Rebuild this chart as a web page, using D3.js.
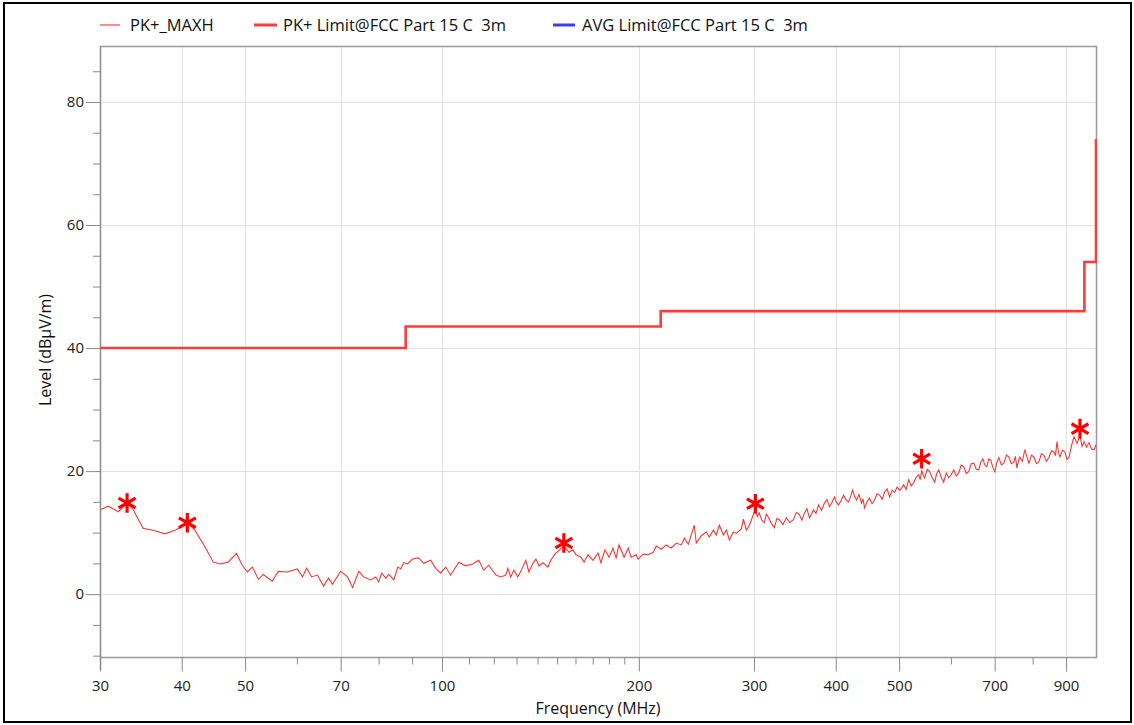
<!DOCTYPE html>
<html>
<head>
<meta charset="utf-8">
<script src="https://cdn.jsdelivr.net/npm/d3@7"></script>
<style>
  html, body { margin: 0; padding: 0; background: #fff; }
  svg { display: block; font-family: "Open Sans", "Noto Sans", sans-serif; }
</style>
</head>
<body>
<svg id="chart" width="1134" height="725"></svg>
<script>
// ---- data ----
const seriesNames = ["PK+_MAXH", "PK+ Limit@FCC Part 15 C  3m", "AVG Limit@FCC Part 15 C  3m"];

const traceFreq = [30.0,30.9,32.0,33.0,33.7,34.9,36.4,37.7,39.1,40.8,41.9,43.4,44.7,45.8,47.1,48.5,49.5,50.4,51.3,52.4,53.3,55.0,56.2,58.0,60.1,61.2,62.1,63.2,64.5,65.9,67.1,68.0,70.0,71.7,73.0,74.6,75.9,77.8,79.2,80.0,80.9,82.0,82.9,84.4,85.6,86.5,87.4,88.6,90.2,92.1,93.8,96.1,97.8,99.5,101.3,103.1,106.1,108.7,111.4,113.8,115.8,117.9,120.9,123.0,125.2,126.1,127.4,128.8,130.6,132.0,134.3,135.8,137.7,139.2,140.7,142.7,145.2,146.7,148.8,153.6,156.4,158.6,160.3,163.1,164.9,167.2,170.2,173.2,175.0,177.5,180.1,182.6,184.6,186.5,189.9,192.6,194.6,198.1,199.5,203.1,206.7,210.4,212.6,216.4,220.2,224.2,228.2,232.2,234.7,238.0,240.5,243.1,244.8,249.2,253.6,256.3,260.0,262.7,265.5,269.3,272.2,275.1,279.0,281.9,286.9,289.0,292.0,295.2,
301.4,303.5,305.6,308.3,311.1,313.3,315.5,318.9,322.3,325.1,328.0,332.1,336.2,340.4,344.6,348.3,352.0,355.1,358.3,361.4,364.6,367.2,369.8,373.1,376.4,380.4,384.4,387.8,391.3,394.7,398.2,401.0,403.9,407.5,411.1,414.7,418.4,421.4,424.4,427.4,430.4,434.2,438.1,440.4,442.7,446.6,450.6,454.6,458.6,462.7,466.8,470.9,475.1,479.3,483.6,487.8,492.1,496.5,500.9,504.4,508.0,512.5,517.1,521.7,526.3,530.9,535.6,538.5,541.3,544.2,547.1,552.0,556.9,561.8,566.7,570.8,574.9,579.9,584.9,590.1,595.4,600.7,606.0,611.4,616.8,622.3,627.8,633.3,638.9,644.6,650.3,656.0,661.8,666.5,671.3,676.1,680.9,685.7,690.5,695.4,700.4,705.3,710.3,716.6,723.0,729.4,735.8,742.3,748.9,752.9,756.9,760.9,764.9,771.6,778.4,784.0,789.6,796.6,803.6,810.7,817.9,825.1,832.4,839.8,847.3,854.8,862.4,867.0,871.6,876.2,880.9,888.7,896.5,902.8,909.2,917.3,925.4,935.3,945.2,952.0,958.7,967.2,975.8,984.5,993.3,1000];
const traceLevel = [13.7,14.3,13.4,14.8,13.8,10.7,10.3,9.8,10.4,11.6,10.4,7.7,5.2,4.9,5.2,6.6,4.7,3.6,4.4,2.4,3.2,2.1,3.7,3.6,4.1,2.8,4.2,2.8,3.1,1.3,2.6,1.6,3.7,2.8,1.1,3.7,2.8,2.3,2.8,2.0,3.4,2.6,3.2,2.3,4.4,4.1,5.1,4.9,5.7,5.9,5.0,5.5,4.2,3.4,4.4,3.1,5.2,4.6,4.9,5.5,3.9,4.7,3.1,2.8,3.1,4.2,2.8,3.9,2.8,3.7,5.5,3.6,5.0,5.7,4.6,5.1,4.4,5.5,6.5,7.8,6.8,7.2,6.4,6.0,5.2,6.4,5.5,6.7,5.1,7.2,6.0,7.5,5.9,8.0,6.0,7.5,6.0,6.4,5.7,6.5,6.4,6.8,7.8,7.3,8.0,7.5,8.3,8.0,9.1,8.1,9.6,11.2,8.3,9.5,10.1,9.3,10.4,9.6,11.2,9.6,10.4,8.8,10.1,9.9,10.6,12.2,10.4,11.2,
13.8,12.6,13.2,12.0,11.6,13.0,12.5,11.5,10.8,12.3,12.1,11.3,12.4,11.6,12.1,13.3,12.9,12.0,13.2,13.9,12.4,13.0,13.7,13.1,14.5,13.6,14.8,15.4,14.2,14.9,15.8,14.9,14.5,15.2,16.1,15.3,15.0,15.8,16.9,15.9,15.3,16.2,14.8,15.5,14.0,15.0,15.6,14.7,15.3,16.3,16.1,15.4,16.6,17.1,15.8,16.9,16.5,17.4,16.9,17.2,17.8,17.0,18.6,17.6,18.1,19.0,19.4,18.6,20.0,19.4,18.9,20.3,19.9,18.9,18.2,19.6,20.2,19.0,18.2,19.7,18.9,19.4,20.2,19.2,19.7,21.0,20.7,19.6,19.9,21.2,21.3,20.3,20.2,21.4,22.0,21.0,20.7,22.0,21.8,20.6,19.9,21.4,22.2,21.0,21.3,22.6,22.3,21.2,21.5,22.4,20.5,21.6,22.3,21.6,23.5,22.4,21.3,22.6,22.3,21.2,21.5,22.8,22.6,21.6,22.2,23.3,23.1,22.5,24.8,23.0,22.3,23.4,23.1,21.9,22.2,24.1,25.6,24.5,25.8,24.0,24.8,23.9,24.6,23.6,23.5,24.3];

const peakFreq = [33.0, 40.8, 153.6, 301.4, 541.3, 945.2];
const peakLevel = [14.8, 11.6, 8.3, 14.7, 22.0, 26.9];

const limitFreq = [30, 88, 88, 216, 216, 960, 960, 1000, 1000];
const limitLevel = [40, 40, 43.5, 43.5, 46, 46, 54, 54, 74];

const xMajorTicks = [30, 40, 50, 70, 100, 200, 300, 400, 500, 700, 900];
const xMinorTicks = [60, 80, 90, 110, 120, 130, 140, 150, 160, 170, 180, 190, 600, 800];
const yMajorTicks = [0, 20, 40, 60, 80];
const yMinorTicks = [-10, -5, 5, 10, 15, 25, 30, 35, 45, 50, 55, 65, 70, 75, 85];

// ---- layout ----
const svg = d3.select("#chart");
const L = 100, R = 1096, T = 46, B = 657.5;
const x = d3.scaleLog().domain([30, 1000]).range([L, R]);
const y = d3.scaleLinear().domain([-10.3, 89.1]).range([B, T]);

// outer border
svg.append("rect").attr("x", 4).attr("y", 3).attr("width", 1127).attr("height", 719)
  .attr("fill", "none").attr("stroke", "#000").attr("stroke-width", 2);

// grid
const grid = svg.append("g").attr("stroke", "#e2e2e2").attr("stroke-width", 1);
grid.selectAll("line.v").data(xMajorTicks.slice(1)).join("line")
  .attr("x1", d => Math.round(x(d)) + 0.5).attr("x2", d => Math.round(x(d)) + 0.5)
  .attr("y1", T).attr("y2", B);
grid.selectAll("line.h").data(yMajorTicks).join("line")
  .attr("y1", d => Math.round(y(d)) + 0.5).attr("y2", d => Math.round(y(d)) + 0.5)
  .attr("x1", L).attr("x2", R);

// frame (top, right, bottom)
svg.append("path")
  .attr("d", `M${L},${T + 0.5}H${R + 0.5}V${B}H${L}`)
  .attr("fill", "none").attr("stroke", "#999").attr("stroke-width", 1.5);

// y axis
const yAxisG = svg.append("g").attr("transform", `translate(${L},0)`);
yAxisG.call(d3.axisLeft(y).tickValues(yMajorTicks).tickSize(14).tickPadding(2).tickFormat(d3.format("d")));
const yMinorG = svg.append("g").attr("transform", `translate(${L},0)`);
yMinorG.call(d3.axisLeft(y).tickValues(yMinorTicks).tickSize(7).tickFormat(""));
yMinorG.select(".domain").remove();
yAxisG.select(".domain").attr("d", `M0.5,${T}V670`);

// x axis
const xAxisG = svg.append("g").attr("transform", `translate(0,${B})`);
xAxisG.call(d3.axisBottom(x).tickValues(xMajorTicks).tickSize(14).tickPadding(9).tickFormat(d3.format("d")));
const xMinorG = svg.append("g").attr("transform", `translate(0,${B})`);
xMinorG.call(d3.axisBottom(x).tickValues(xMinorTicks).tickSize(7).tickFormat(""));
xMinorG.select(".domain").remove();
xAxisG.select(".domain").remove();

svg.selectAll(".tick line").attr("stroke", "#8a8a8a");
yAxisG.select(".domain").attr("stroke", "#8a8a8a").attr("stroke-width", 1.5);
svg.selectAll(".tick text").attr("fill", "#222").style("font-size", "15px")
  .style("font-family", "'Open Sans', 'Noto Sans', sans-serif");

// axis titles
svg.append("text").attr("x", (L + R) / 2).attr("y", 714).attr("text-anchor", "middle")
  .attr("fill", "#111").style("font-size", "16px").text("Frequency (MHz)");
svg.append("text").attr("transform", "translate(51,350) rotate(-90)").attr("text-anchor", "middle")
  .attr("fill", "#111").style("font-size", "16px").text("Level (dBµV/m)");

// clip
svg.append("clipPath").attr("id", "clip").append("rect")
  .attr("x", L).attr("y", T).attr("width", R - L + 1).attr("height", B - T);

const plot = svg.append("g").attr("clip-path", "url(#clip)");

// limit line
const limitData = limitFreq.map((f, i) => [f, limitLevel[i]]);
plot.append("path").datum(limitData)
  .attr("d", d3.line().x(d => x(d[0])).y(d => y(d[1])))
  .attr("fill", "none").attr("stroke", "#ff3b3b").attr("stroke-width", 2.6);

// trace
const traceData = traceFreq.map((f, i) => [f, traceLevel[i]]);
plot.append("path").datum(traceData)
  .attr("d", d3.line().x(d => x(d[0])).y(d => y(d[1])))
  .attr("fill", "none").attr("stroke", "#ff3535").attr("stroke-width", 1.1);

// peaks
const peakData = peakFreq.map((f, i) => [f, peakLevel[i]]);
plot.selectAll("path.peak").data(peakData).join("path").attr("class", "peak")
  .attr("transform", d => `translate(${x(d[0])},${y(d[1])})`)
  .attr("d", d3.symbol().type(d3.symbolAsterisk).size(270)())
  .attr("fill", "none").attr("stroke", "#ff0000").attr("stroke-width", 3.2);

// legend
const legendItems = [
  { name: seriesNames[0], x1: 100, x2: 120, tx: 130, color: "#ff4040", w: 1.2 },
  { name: seriesNames[1], x1: 254, x2: 277, tx: 283, color: "#ff3b3b", w: 3 },
  { name: seriesNames[2], x1: 553, x2: 575, tx: 582, color: "#3b3bff", w: 3 }
];
const lg = svg.append("g");
legendItems.forEach(it => {
  lg.append("line").attr("x1", it.x1).attr("x2", it.x2).attr("y1", 25).attr("y2", 25)
    .attr("stroke", it.color).attr("stroke-width", it.w);
  lg.append("text").attr("x", it.tx).attr("y", 31).attr("fill", "#111")
    .style("font-size", "16.5px").style("white-space", "pre").text(it.name);
});
</script>
</body>
</html>
